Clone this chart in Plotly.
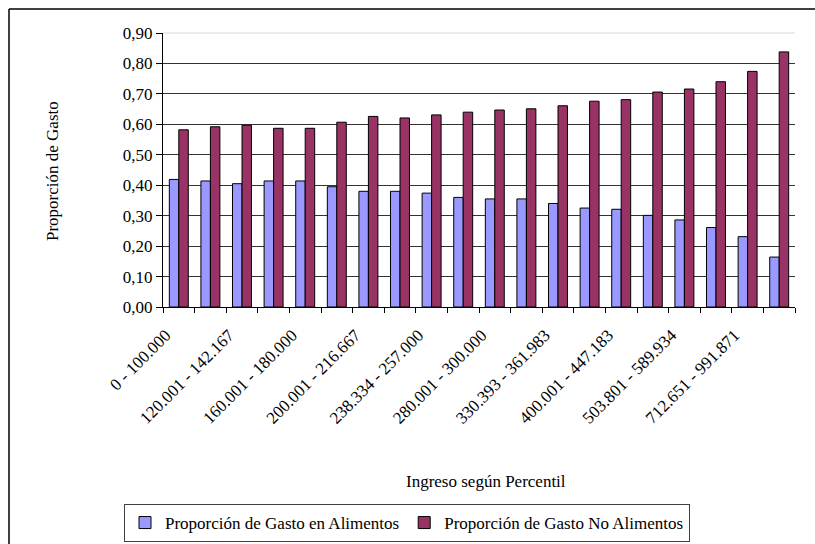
import plotly.graph_objects as go

# ---- data ----
n_categorias = 20
etiquetas_visibles = [
    "0 - 100.000", "120.001 - 142.167", "160.001 - 180.000", "200.001 - 216.667",
    "238.334 - 257.000", "280.001 - 300.000", "330.393 - 361.983", "400.001 - 447.183",
    "503.801 - 589.934", "712.651 - 991.871",
]
gasto_alimentos = [0.419, 0.414, 0.405, 0.414, 0.414, 0.395, 0.380, 0.380, 0.374, 0.360,
                   0.355, 0.355, 0.340, 0.325, 0.321, 0.301, 0.286, 0.261, 0.231, 0.164]
gasto_no_alimentos = [0.582, 0.592, 0.597, 0.587, 0.587, 0.607, 0.626, 0.621, 0.631, 0.640,
                      0.647, 0.651, 0.661, 0.676, 0.681, 0.706, 0.716, 0.740, 0.774, 0.838]
y_ticks = [0.0, 0.1, 0.2, 0.3, 0.4, 0.5, 0.6, 0.7, 0.8, 0.9]

x = list(range(n_categorias))
label_pos = x[::2]
boundaries = [i - 0.5 for i in range(n_categorias + 1)]

FONT = "Liberation Serif"
FS = 17

W, H = 815, 544
PL, PR, PT, PB = 163, 20, 33, 237
PW = W - PL - PR   # 632
PH = H - PT - PB   # 274


def px_x(sx):
    return (sx - PL) / PW


def px_y(sy):
    return (H - PB - sy) / PH


fig = go.Figure()
fig.add_trace(go.Bar(
    x=x, y=gasto_alimentos, name="Proporción de Gasto en Alimentos",
    marker=dict(color="#9999FF", line=dict(color="black", width=1)),
))
fig.add_trace(go.Bar(
    x=x, y=gasto_no_alimentos, name="Proporción de Gasto No Alimentos",
    marker=dict(color="#993366", line=dict(color="black", width=1)),
))
# invisible trace to carry the label axis
fig.add_trace(go.Scatter(x=[x[0], x[-1]], y=[0, 0], xaxis="x2", mode="markers",
                         marker=dict(opacity=0), showlegend=False, hoverinfo="skip"))

fig.update_layout(
    template="none",
    width=W, height=H,
    paper_bgcolor="white", plot_bgcolor="white",
    margin=dict(l=PL, r=PR, t=PT, b=PB, autoexpand=False),
    font=dict(family=FONT, size=FS, color="black"),
    separators=",.",
    barmode="group", bargap=0.4, bargroupgap=0,
    showlegend=True,
    legend=dict(orientation="h", x=px_x(407), xanchor="center", y=px_y(504), yanchor="top",
                bordercolor="#404040", borderwidth=1, font=dict(size=FS, family=FONT),
                itemwidth=30, tracegroupgap=0, bgcolor="white"),
    xaxis=dict(range=[-0.5, n_categorias - 0.5], tickmode="array", tickvals=boundaries,
               showticklabels=False, ticks="outside", ticklen=5, tickcolor="black",
               showline=True, linecolor="black", linewidth=1, showgrid=False,
               zeroline=False, automargin=False),
    xaxis2=dict(range=[-0.5, n_categorias - 0.5], overlaying="x", side="bottom", anchor="y",
                tickmode="array", tickvals=label_pos, ticktext=etiquetas_visibles,
                tickangle=-45, ticks="", showline=False, showgrid=False, zeroline=False,
                automargin=False,
                tickfont=dict(size=FS, family=FONT), ticklabelstandoff=14, ticklabelshift=-13),
    yaxis=dict(range=[0, 0.9], tickmode="array", tickvals=y_ticks, tickformat=".2f",
               ticks="outside", ticklen=6, tickcolor="black",
               showline=True, linecolor="black", linewidth=1, automargin=False,
               showgrid=True, gridcolor="#333333", gridwidth=1, zeroline=False,
               tickfont=dict(size=FS, family=FONT)),
    shapes=[
        # light grey top border of the plot area
        dict(type="line", xref="paper", yref="paper", x0=0, x1=1, y0=1, y1=1,
             line=dict(color="#d8d8d8", width=1), layer="above"),
        # outer chart frame: left and top edges
        dict(type="line", xref="paper", yref="paper",
             x0=px_x(9), x1=px_x(9), y0=px_y(560), y1=px_y(9),
             line=dict(color="black", width=1.5)),
        dict(type="line", xref="paper", yref="paper",
             x0=px_x(9), x1=px_x(830), y0=px_y(9), y1=px_y(9),
             line=dict(color="black", width=1.5)),
    ],
    annotations=[
        dict(text="Ingreso según Percentil", xref="paper", yref="paper",
             x=px_x(486), y=px_y(481), xanchor="center", yanchor="middle", showarrow=False,
             font=dict(size=FS, family=FONT)),
        dict(text="Proporción de Gasto", xref="paper", yref="paper",
             x=px_x(53), y=px_y(171), xanchor="center", yanchor="middle",
             textangle=-90, showarrow=False,
             font=dict(size=FS, family=FONT)),
    ],
)

fig.write_html(
    "out.html",
    config={"displayModeBar": False},
    post_script="document.body.style.margin='0';document.body.style.overflow='hidden';",
)
